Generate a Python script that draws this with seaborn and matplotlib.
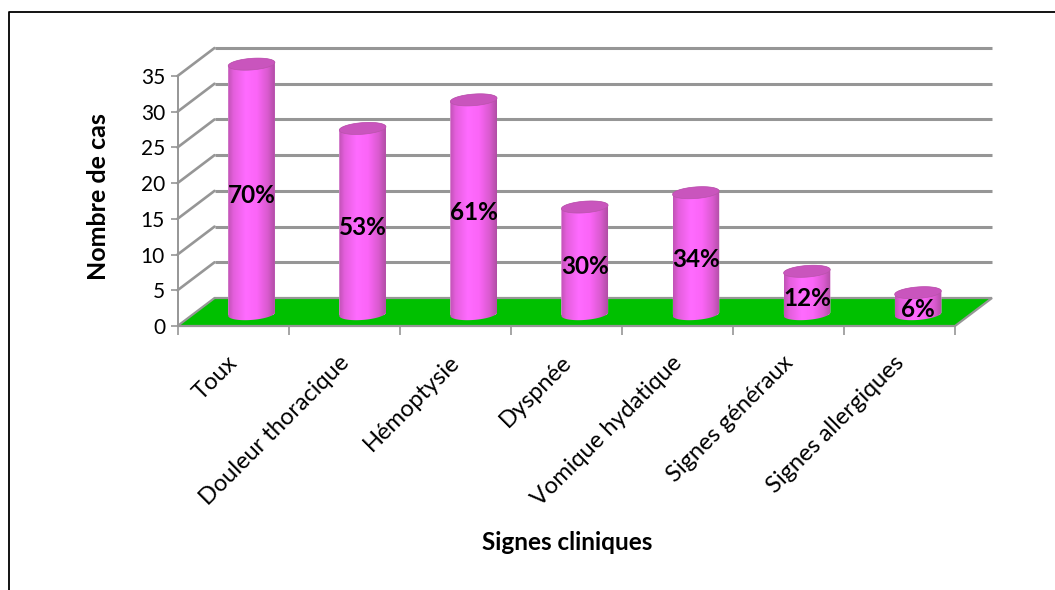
import numpy as np
import pandas as pd
import matplotlib
matplotlib.use("Agg")
import matplotlib.pyplot as plt
from matplotlib.colors import LinearSegmentedColormap
from matplotlib.lines import Line2D
from matplotlib.patches import Polygon
from matplotlib.transforms import ScaledTranslation
import seaborn as sns

# Clinical signs and case counts
signes = ["Toux", "Douleur thoracique", "Hémoptysie", "Dyspnée",
          "Vomique hydatique", "Signes généraux", "Signes allergiques"]
cas = [35, 26, 30, 15, 17, 6, 3]
pourcentages = ["70%", "53%", "61%", "30%", "34%", "12%", "6%"]
graduations = [0, 5, 10, 15, 20, 25, 30, 35]

GRIS = "#969696"
VERT = "#00c000"
DESSUS = "#c955bd"

sns.set_style("white")
plt.rcParams["font.family"] = ["Lato", "DejaVu Sans"]

W, H = 1055, 590
fig = plt.figure(figsize=(W / 100, H / 100), dpi=100)
ax = fig.add_axes([177.5 / W, 1 - 326 / H, 777.5 / W, 250 / H])
ax.patch.set_alpha(0)

# Oblique depth of the pseudo-3D box, in data units
prof_x, prof_y = 37 / 111, 28 / (250 / 35)
x0, x1 = -0.5, 6.5

df = pd.DataFrame({"signe": signes, "cas": cas})
sns.barplot(data=df, x="signe", y="cas", color="#ff66ff", width=0.42,
            saturation=1, ax=ax, zorder=4, bottom=prof_y / 2 - 0.3)

# Back wall gridlines and their side-wall diagonals
for v in graduations[1:]:
    ax.plot([x0 + prof_x, x1 + prof_x], [v + prof_y] * 2, color=GRIS, lw=2.2,
            clip_on=False, zorder=1, solid_capstyle="butt")
    ax.plot([x0, x0 + prof_x], [v, v + prof_y], color=GRIS, lw=1.9,
            clip_on=False, zorder=1)

# Green floor
sol = Polygon([(x0, 0), (x0 + prof_x, prof_y), (x1 + prof_x, prof_y), (x1, 0)],
              closed=True, facecolor=VERT, edgecolor=GRIS, lw=1.6,
              clip_on=False, zorder=2)
ax.add_patch(sol)

# Cylinders: each seaborn bar is clipped to a cylinder outline and shaded
degrade = LinearSegmentedColormap.from_list(
    "cylindre", [(0, "#c052b4"), (0.12, "#e45fdc"), (0.38, "#ff6bff"),
                 (0.62, "#fb65f7"), (0.85, "#d95ace"), (1, "#b04ea4")])
gradient = np.linspace(0, 1, 256).reshape(1, -1)
demi_h = 5.8 / (250 / 35)
pente = 1.7 / (250 / 35) / 0.21
t = np.linspace(0, 2 * np.pi, 121)

for barre, valeur, texte in zip(ax.patches[:len(cas)], cas, pourcentages):
    barre.set_x(barre.get_x() + prof_x / 2)
    g = barre.get_x()
    a = barre.get_width() / 2
    cx = g + a
    bas = barre.get_y()
    haut = bas + valeur

    ex = a * np.cos(t)
    ey = demi_h * np.sin(t) + pente * ex
    # lower half of the base ellipse, then upper half of the top ellipse
    arc_bas = np.column_stack([cx + ex[60:121], bas + ey[60:121]])
    arc_haut = np.column_stack([cx + ex[:61], haut + ey[:61]])
    contour = Polygon(np.vstack([arc_bas, arc_haut]), closed=True,
                      facecolor="none", edgecolor="none", clip_on=False)
    ax.add_patch(contour)

    im = ax.imshow(gradient, extent=[g, g + 2 * a, bas - 2, haut + 2], cmap=degrade,
                   aspect="auto", zorder=5, origin="lower")
    im.set_clip_box(fig.bbox)
    im.set_clip_path(contour)
    barre.set_clip_box(fig.bbox)
    barre.set_clip_path(contour)

    dessus = Polygon(np.column_stack([cx + ex, haut + ey]), closed=True,
                     facecolor=DESSUS, edgecolor="#b854aa", lw=0.5,
                     zorder=6, clip_on=False)
    ax.add_patch(dessus)

    ax.annotate(texte, (cx, bas + valeur / 2), xytext=(0, -4.3),
                textcoords="offset points", ha="center", va="center",
                fontsize=17.5, fontweight="bold", color="black", zorder=8,
                annotation_clip=False)

ax.set_xlim(x0, x1)
ax.set_ylim(0, 35)

# Axes, ticks and labels
for cote in ("top", "right"):
    ax.spines[cote].set_visible(False)
for cote in ("left", "bottom"):
    ax.spines[cote].set_visible(True)
    ax.spines[cote].set_color(GRIS)
    ax.spines[cote].set_linewidth(1.4)
    ax.spines[cote].set_zorder(3)
ax.set_yticks(graduations)
ax.tick_params(axis="y", left=True, length=5, width=1.2, color=GRIS,
               labelsize=15, pad=4, labelcolor="black")
ax.set_xticks(np.arange(len(signes) + 1) - 0.5, minor=True)
ax.tick_params(axis="x", which="minor", bottom=True, length=6.5, width=1.2, color=GRIS)
ax.tick_params(axis="x", which="major", bottom=False, labelsize=17, pad=15,
               labelcolor="black")
ax.set_xticks(np.arange(len(signes)))
ax.set_xticklabels(signes, rotation=45, ha="right", rotation_mode="anchor")
ax.set_xlabel("")
ax.set_ylabel("")
decalage = ScaledTranslation(-6 / 100, 0, fig.dpi_scale_trans)
for lab in ax.get_xticklabels():
    lab.set_transform(lab.get_transform() + decalage)

fig.text(567 / W, 1 - 542 / H, "Signes cliniques", ha="center", va="center",
         fontsize=17.5, fontweight="bold", color="black")
fig.text(99 / W, 1 - 197 / H, "Nombre de cas", ha="center", va="center",
         rotation=90, fontsize=18, fontweight="bold", color="black")

# Chart frame: only the left and top edges fall inside the image
fig.add_artist(Line2D([8.5 / W, 8.5 / W, 1],
                      [0, 1 - 11.5 / H, 1 - 11.5 / H],
                      color="black", lw=1.3, transform=fig.transFigure))

fig.savefig("out.png", dpi=100, facecolor="white")
